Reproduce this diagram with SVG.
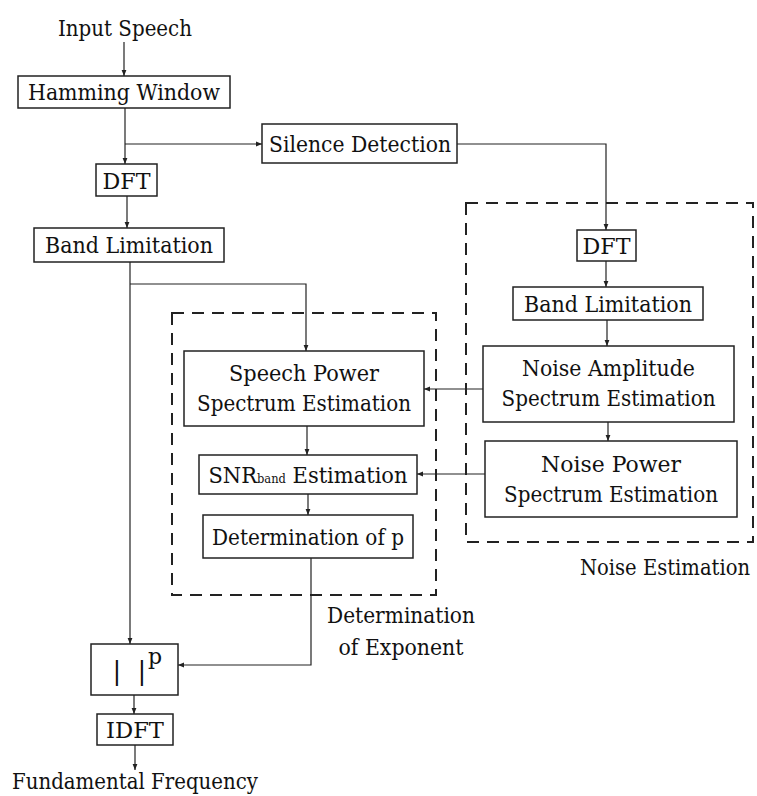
<svg xmlns="http://www.w3.org/2000/svg" width="757" height="796" viewBox="0 0 757 796">
<style>
text{font-family:'DejaVu Serif',serif;font-size:22px;fill:#111;text-anchor:middle}
.box{fill:none;stroke:#222;stroke-width:1.5}
.dash{fill:none;stroke:#222;stroke-width:2;stroke-dasharray:12 8}
.c{fill:none;stroke:#222;stroke-width:1.2}
</style>
<defs>
<marker id="ah" viewBox="0 0 10 10" refX="10" refY="5" markerWidth="6" markerHeight="6" markerUnits="userSpaceOnUse" orient="auto">
<path d="M0,1 L10,5 L0,9 Z" fill="#222"/>
</marker>
</defs>
<rect width="757" height="796" fill="#fff"/>

<g id="group-noise-estimation">
<rect class="dash" x="466" y="203" width="287" height="339"/>
<text transform="translate(665,575) scale(0.89,1)" x="0" y="0">Noise Estimation</text>
</g>
<g id="group-determination">
<rect class="dash" x="172" y="313" width="264" height="282"/>
<text x="401" y="623" textLength="148" lengthAdjust="spacingAndGlyphs">Determination</text>
<text x="401" y="655" textLength="125" lengthAdjust="spacingAndGlyphs">of Exponent</text>
</g>

<g id="connectors">
<path class="c" marker-end="url(#ah)" d="M124,42 L124,76"/>
<path class="c" marker-end="url(#ah)" d="M125,108 L125,164"/>
<path class="c" marker-end="url(#ah)" d="M125,144 L262,144"/>
<path class="c" marker-end="url(#ah)" d="M457,144 L606,144 L606,230"/>
<path class="c" marker-end="url(#ah)" d="M127,196 L127,228"/>
<path class="c" marker-end="url(#ah)" d="M130,262 L130,644"/>
<path class="c" marker-end="url(#ah)" d="M130,284 L306,284 L306,351"/>
<path class="c" marker-end="url(#ah)" d="M606,261 L606,287"/>
<path class="c" marker-end="url(#ah)" d="M607,320 L607,346"/>
<path class="c" marker-end="url(#ah)" d="M608,422 L608,441"/>
<path class="c" marker-end="url(#ah)" d="M483,389 L424,389"/>
<path class="c" marker-end="url(#ah)" d="M485,474 L417,474"/>
<path class="c" marker-end="url(#ah)" d="M307,426 L307,455"/>
<path class="c" marker-end="url(#ah)" d="M308,494 L308,515"/>
<path class="c" marker-end="url(#ah)" d="M311,558 L311,665 L178,665"/>
<path class="c" marker-end="url(#ah)" d="M134,695 L134,714"/>
<path class="c" marker-end="url(#ah)" d="M135,745 L135,770"/>
</g>

<g id="input-speech"><text x="125" y="36" textLength="134" lengthAdjust="spacingAndGlyphs">Input Speech</text></g>
<g id="hamming-window">
<rect class="box" x="18" y="76" width="212" height="32"/>
<text x="124" y="100" textLength="192" lengthAdjust="spacingAndGlyphs">Hamming Window</text>
</g>
<g id="silence-detection">
<rect class="box" x="262" y="124" width="195" height="39"/>
<text x="360" y="152" textLength="182" lengthAdjust="spacingAndGlyphs">Silence Detection</text>
</g>
<g id="dft-left">
<rect class="box" x="96" y="164" width="61" height="32"/>
<text x="126.5" y="189" textLength="48" lengthAdjust="spacingAndGlyphs">DFT</text>
</g>
<g id="band-limitation-left">
<rect class="box" x="34" y="228" width="190" height="34"/>
<text x="129" y="253" textLength="168" lengthAdjust="spacingAndGlyphs">Band Limitation</text>
</g>
<g id="dft-right">
<rect class="box" x="577" y="230" width="59" height="31"/>
<text x="606.5" y="254" textLength="48" lengthAdjust="spacingAndGlyphs">DFT</text>
</g>
<g id="band-limitation-right">
<rect class="box" x="513" y="287" width="190" height="33"/>
<text x="608" y="312" textLength="168" lengthAdjust="spacingAndGlyphs">Band Limitation</text>
</g>
<g id="noise-amplitude">
<rect class="box" x="483" y="346" width="251" height="76"/>
<text x="608.5" y="376" textLength="173" lengthAdjust="spacingAndGlyphs">Noise Amplitude</text>
<text x="608.5" y="406" textLength="214" lengthAdjust="spacingAndGlyphs">Spectrum Estimation</text>
</g>
<g id="noise-power">
<rect class="box" x="485" y="441" width="252" height="76"/>
<text x="611" y="472" textLength="140" lengthAdjust="spacingAndGlyphs">Noise Power</text>
<text x="611" y="502" textLength="214" lengthAdjust="spacingAndGlyphs">Spectrum Estimation</text>
</g>
<g id="speech-power">
<rect class="box" x="184" y="351" width="240" height="75"/>
<text x="304" y="381" textLength="150" lengthAdjust="spacingAndGlyphs">Speech Power</text>
<text x="304" y="411" textLength="214" lengthAdjust="spacingAndGlyphs">Spectrum Estimation</text>
</g>
<g id="snr-band">
<rect class="box" x="199" y="455" width="218" height="39"/>
<text x="308" y="483" textLength="199" lengthAdjust="spacingAndGlyphs">SNR<tspan style="font-size:12px">band</tspan> Estimation</text>
</g>
<g id="determination-of-p">
<rect class="box" x="203" y="515" width="210" height="43"/>
<text x="308" y="545" textLength="192" lengthAdjust="spacingAndGlyphs">Determination of p</text>
</g>
<g id="power-p">
<rect class="box" x="91" y="644" width="87" height="51"/>
<text y="680" style="font-size:26px"><tspan x="117">|</tspan><tspan x="142">|</tspan></text>
<text x="148" y="664" style="text-anchor:start">p</text>
</g>
<g id="idft">
<rect class="box" x="97" y="714" width="76" height="31"/>
<text x="135" y="738" textLength="58" lengthAdjust="spacingAndGlyphs">IDFT</text>
</g>
<g id="fundamental-frequency"><text x="12" y="789" style="text-anchor:start" textLength="246" lengthAdjust="spacingAndGlyphs">Fundamental Frequency</text></g>
</svg>
